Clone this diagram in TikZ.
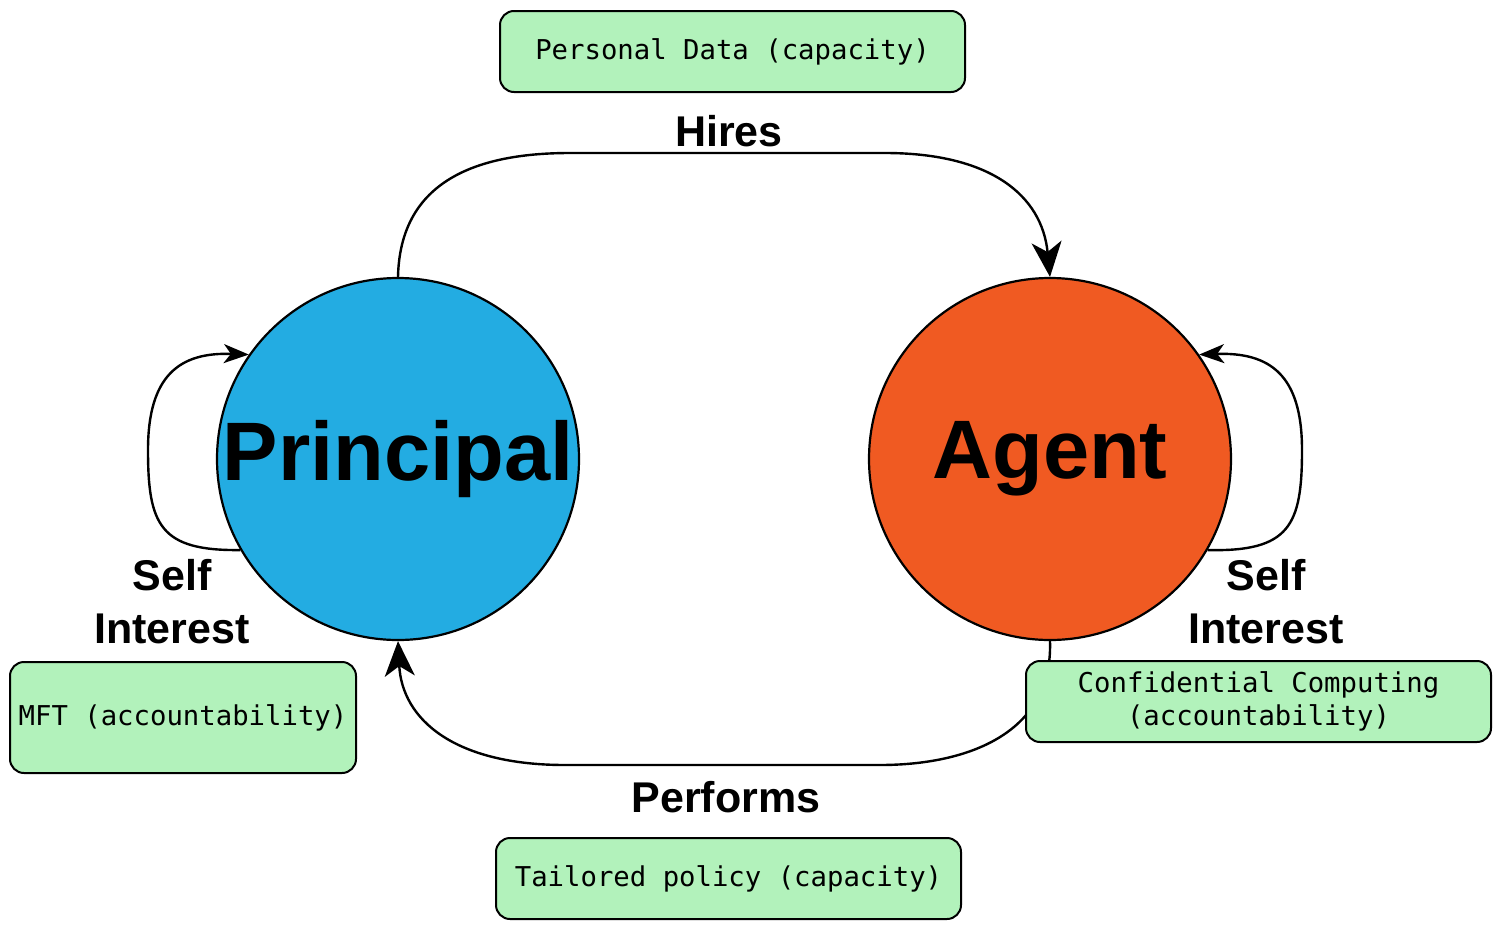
\documentclass[tikz,border=0pt]{standalone}
\usepackage{fontspec}
\usetikzlibrary{arrows.meta}
\newfontfamily\labelfont{Liberation Sans}
\newfontfamily\codefont{DejaVu Sans Mono}
\definecolor{principalblue}{HTML}{23ACE2}
\definecolor{agentorange}{HTML}{F05A22}
\definecolor{boxgreen}{HTML}{B2F2BB}
\begin{document}
\begin{tikzpicture}[x=1pt,y=-1pt,
    actor/.style={circle,draw,line width=2.2pt,minimum size=362pt,inner sep=0pt,
        font=\labelfont\bfseries\fontsize{83}{90}\selectfont},
    box/.style={draw,line width=2pt,rounded corners=14pt,fill=boxgreen,inner sep=0pt,
        minimum width=465pt,minimum height=81pt,align=center,
        font=\codefont\fontsize{27.3}{33}\selectfont},
    lbl/.style={align=center,font=\labelfont\bfseries\fontsize{43}{53}\selectfont},
    bigtip/.style={-{Stealth[length=35pt,width=30pt,inset=10pt]}},
    smalltip/.style={-{Stealth[length=25pt,width=19pt,inset=7pt]}}]
    \useasboundingbox (0,0) rectangle (1501,929);
    %draw actors
    \node[actor,fill=principalblue] (principal) at (398,459) {Principal};
    \node[actor,fill=agentorange] (agent) at (1050,459) {Agent};
    %draw arrows
    \draw [bigtip,line width=2.4pt] (principal.north) .. controls (400,185) and (470,153) .. (570,153)
        -- (885,153) .. controls (990,153) and (1042,195) .. (agent.north);
    \draw [bigtip,line width=2.4pt] (agent.south) .. controls (1053,735) and (965,765) .. (880,765)
        -- (565,765) .. controls (455,765) and (402,720) .. (principal.south);
    \draw [smalltip,line width=2.4pt] (principal.210) .. controls (160,551) and (148,525) .. (148,450)
        .. controls (148,375) and (180,352) .. (principal.145);
    \draw [smalltip,line width=2.4pt] (agent.330) .. controls (1290,552) and (1302,525) .. (1302,450)
        .. controls (1302,375) and (1270,352) .. (agent.35);
    %draw labels
    \node[lbl] (hires) at (729,131) {Hires};
    \node[lbl] (performs) at (726,797) {Performs};
    \node[lbl] (selfprincipal) at (172,602) {Self\\Interest};
    \node[lbl] (selfagent) at (1266,602) {Self\\Interest};
    %draw boxes
    \node[box] (data) at (732.5,51.5) {Personal Data (capacity)};
    \node[box,minimum width=346pt,minimum height=111pt] (mft) at (183,717.5) {MFT (accountability)};
    \node[box] (conf) at (1258.5,701.5) {Confidential Computing\\(accountability)};
    \node[box] (policy) at (728.5,878.5) {Tailored policy (capacity)};
\end{tikzpicture}
\end{document}
